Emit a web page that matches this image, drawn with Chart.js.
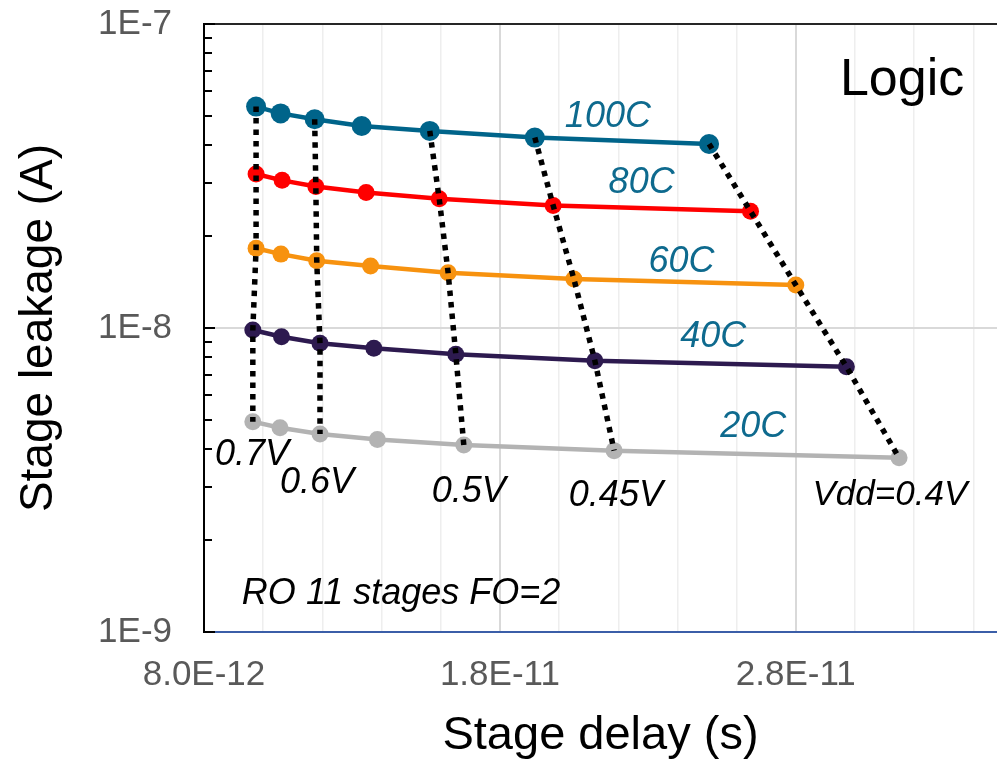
<!DOCTYPE html>
<html>
<head>
<meta charset="utf-8">
<script src="https://cdn.jsdelivr.net/npm/chart.js@4.4.1/dist/chart.umd.min.js"></script>
<style>
  html, body { margin: 0; padding: 0; background: #fff; }
</style>
</head>
<body>
<canvas id="chart" width="997" height="760"></canvas>
<script>
// --- Datos ---
// Vdd de cada punto (igual para todas las temperaturas)
const vddLevels = [0.7, 0.65, 0.6, 0.55, 0.5, 0.45, 0.4];
// Vdd unidos con línea punteada
const vddLinked = [0.7, 0.6, 0.5, 0.45, 0.4];
const vddNames = ['0.7V', '0.6V', '0.5V', '0.45V', 'Vdd=0.4V'];

const tempNames = ['100C', '80C', '60C', '40C', '20C'];
const tempColors = ['#00648a', '#ff0000', '#f7920f', '#2d1a4f', '#b3b3b3'];

// retardo por etapa (s)
const delay100 = [9.76e-12, 1.059e-11, 1.174e-11, 1.333e-11, 1.563e-11, 1.918e-11, 2.507e-11];
const delay80  = [9.76e-12, 1.064e-11, 1.178e-11, 1.348e-11, 1.595e-11, 1.980e-11, 2.647e-11];
const delay60  = [9.76e-12, 1.060e-11, 1.181e-11, 1.363e-11, 1.625e-11, 2.050e-11, 2.800e-11];
const delay40  = [9.65e-12, 1.062e-11, 1.192e-11, 1.374e-11, 1.651e-11, 2.121e-11, 2.971e-11];
const delay20  = [9.65e-12, 1.057e-11, 1.192e-11, 1.386e-11, 1.678e-11, 2.186e-11, 3.149e-11];

// fuga por etapa (A)
const leak100 = [5.35e-8, 5.08e-8, 4.86e-8, 4.62e-8, 4.45e-8, 4.23e-8, 4.03e-8];
const leak80  = [3.21e-8, 3.06e-8, 2.92e-8, 2.79e-8, 2.66e-8, 2.53e-8, 2.42e-8];
const leak60  = [1.83e-8, 1.75e-8, 1.665e-8, 1.60e-8, 1.52e-8, 1.45e-8, 1.385e-8];
const leak40  = [9.85e-9, 9.36e-9, 8.91e-9, 8.58e-9, 8.19e-9, 7.80e-9, 7.46e-9];
const leak20  = [4.92e-9, 4.70e-9, 4.48e-9, 4.30e-9, 4.12e-9, 3.95e-9, 3.74e-9];

// ejes
const xMajorTicks = [8e-12, 1.8e-11, 2.8e-11];
const xMajorLabels = ['8.0E-12', '1.8E-11', '2.8E-11'];
const yMajorTicks = [1e-9, 1e-8, 1e-7];
const yMajorLabels = ['1E-9', '1E-8', '1E-7'];

// --- Construcción de datasets ---
const delays = [delay100, delay80, delay60, delay40, delay20];
const leaks = [leak100, leak80, leak60, leak40, leak20];

const tempSets = tempNames.map((name, k) => ({
    label: name,
    data: delays[k].map((d, i) => ({ x: d, y: leaks[k][i] })),
    borderColor: tempColors[k],
    backgroundColor: tempColors[k],
    borderWidth: 4.5,
    pointRadius: k === 0 ? 10 : 8.5,
    pointBorderWidth: 0,
    tension: 0,
    order: 1
}));

const vddSets = vddLinked.map((v, j) => {
    const i = vddLevels.indexOf(v);
    return {
        label: vddNames[j],
        data: delays.map((d, k) => ({ x: d[i], y: leaks[k][i] })),
        borderColor: '#000',
        borderWidth: 5.5,
        borderDash: [5.5, 6],
        borderCapStyle: 'butt',
        pointRadius: 0,
        tension: 0,
        order: 0 // encima de las curvas
    };
});

// rejilla vertical cada 2E-12
const xGridTicks = [];
for (let n = 8; n <= 34; n += 2) xGridTicks.push(n * 1e-12);
const isXMajor = v => xMajorTicks.some(t => Math.abs(t - v) < 1e-15);

// --- Textos sobre el gráfico (coordenadas de datos) ---
const FONT = "'Liberation Sans', Arial, sans-serif";
const notes = [
    { text: '100C', x: 2.165e-11, y: 4.94e-8, color: '#0e6a8e', font: 'italic 36px ' + FONT },
    { text: '80C',  x: 2.279e-11, y: 2.99e-8, color: '#0e6a8e', font: 'italic 36px ' + FONT },
    { text: '60C',  x: 2.414e-11, y: 1.655e-8, color: '#0e6a8e', font: 'italic 36px ' + FONT },
    { text: '40C',  x: 2.521e-11, y: 9.36e-9, color: '#0e6a8e', font: 'italic 36px ' + FONT },
    { text: '20C',  x: 2.656e-11, y: 4.71e-9, color: '#0e6a8e', font: 'italic 36px ' + FONT },
    { text: '0.7V', x: 9.62e-12, y: 3.82e-9, color: '#000', font: 'italic 36px ' + FONT },
    { text: '0.6V', x: 1.182e-11, y: 3.09e-9, color: '#000', font: 'italic 36px ' + FONT },
    { text: '0.5V', x: 1.695e-11, y: 2.89e-9, color: '#000', font: 'italic 36px ' + FONT },
    { text: '0.45V', x: 2.192e-11, y: 2.80e-9, color: '#000', font: 'italic 36px ' + FONT },
    { text: 'Vdd=0.4V', x: 3.118e-11, y: 2.82e-9, color: '#000', font: 'italic 35px ' + FONT },
    { text: 'RO 11 stages FO=2', x: 9.28e-12, y: 1.33e-9, color: '#000', font: 'italic 36px ' + FONT, align: 'left' },
    { text: 'Logic', x: 2.949e-11, y: 6.49e-8, color: '#000', font: '52px ' + FONT, align: 'left' }
];

const decorations = {
    id: 'decorations',
    afterDraw(chart) {
        const { ctx, chartArea: a, scales: { x, y } } = chart;
        ctx.save();
        // línea superior del marco
        ctx.strokeStyle = '#262626';
        ctx.lineWidth = 2;
        ctx.beginPath();
        ctx.moveTo(a.left, a.top);
        ctx.lineTo(a.right, a.top);
        ctx.stroke();
        // marcas del eje Y hacia dentro (1..9 por década)
        ctx.strokeStyle = '#000';
        for (let e = -9; e <= -7; e++) {
            for (let m = 1; m <= 9; m++) {
                const v = m * Math.pow(10, e);
                if (v > 1.0001e-7) break;
                const py = Math.round(y.getPixelForValue(v));
                ctx.beginPath();
                ctx.moveTo(a.left, py);
                ctx.lineTo(a.left + (m === 1 ? 11 : 8), py);
                ctx.stroke();
            }
        }
        // anotaciones
        ctx.textBaseline = 'middle';
        notes.forEach(n => {
            ctx.font = n.font;
            ctx.fillStyle = n.color;
            ctx.textAlign = n.align || 'center';
            ctx.fillText(n.text, x.getPixelForValue(n.x), y.getPixelForValue(n.y));
        });
        ctx.restore();
    }
};

new Chart(document.getElementById('chart'), {
    type: 'line',
    data: { datasets: [...tempSets, ...vddSets] },
    options: {
        responsive: false,
        animation: false,
        events: [],
        layout: { autoPadding: false, padding: { top: 24, left: 0, right: 0, bottom: 0 } },
        plugins: { legend: { display: false }, tooltip: { enabled: false } },
        scales: {
            x: {
                type: 'linear',
                min: 8e-12,
                max: 3.48e-11,
                afterBuildTicks: s => { s.ticks = xGridTicks.map(v => ({ value: v })); },
                afterFit: s => { s.height = 128; s.paddingLeft = 0; s.paddingRight = 0; },
                ticks: {
                    autoSkip: false,
                    maxRotation: 0,
                    padding: 22,
                    color: '#595959',
                    font: { family: FONT, size: 35 },
                    callback: v => {
                        const i = xMajorTicks.findIndex(t => Math.abs(t - v) < 1e-15);
                        return i >= 0 ? xMajorLabels[i] : '';
                    }
                },
                grid: {
                    drawTicks: false,
                    color: c => isXMajor(c.tick.value) ? '#d9d9d9' : '#eeeeee',
                    lineWidth: c => isXMajor(c.tick.value) ? 2 : 1.5
                },
                border: { color: '#3b5ea8', width: 2 },
                title: {
                    display: true,
                    text: 'Stage delay (s)',
                    color: '#000',
                    font: { family: FONT, size: 47 },
                    padding: { top: 0, bottom: -4 }
                }
            },
            y: {
                type: 'logarithmic',
                min: 1e-9,
                max: 1e-7,
                afterBuildTicks: s => { s.ticks = yMajorTicks.map(v => ({ value: v })); },
                afterFit: s => { s.width = 204; s.paddingTop = 0; s.paddingBottom = 0; },
                ticks: {
                    padding: 32,
                    color: '#595959',
                    font: { family: FONT, size: 35 },
                    callback: v => {
                        const i = yMajorTicks.findIndex(t => Math.abs(t - v) / t < 1e-6);
                        return i >= 0 ? yMajorLabels[i] : '';
                    }
                },
                grid: { drawTicks: false, color: '#d9d9d9', lineWidth: 2 },
                border: { color: '#000', width: 2 },
                title: {
                    display: true,
                    text: 'Stage leakage (A)',
                    color: '#000',
                    font: { family: FONT, size: 46 },
                    padding: { top: 12, bottom: 0 }
                }
            }
        }
    },
    plugins: [decorations]
});
</script>
</body>
</html>
